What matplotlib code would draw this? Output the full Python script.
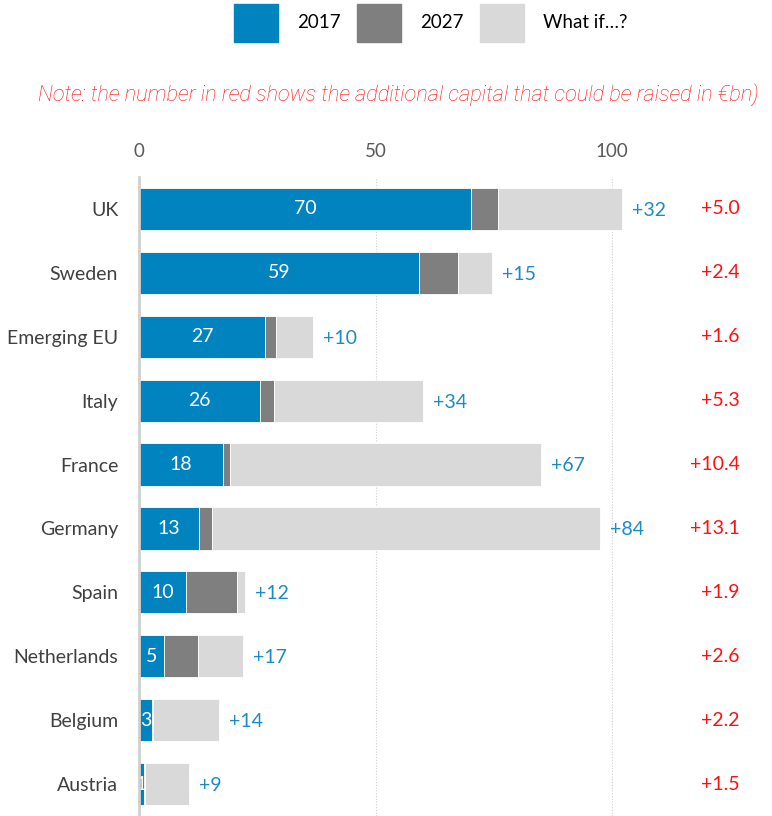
import matplotlib
matplotlib.use("Agg")
import matplotlib.pyplot as plt
from matplotlib.patches import Patch

# ---- data ----
countries = ["UK", "Sweden", "Emerging EU", "Italy", "France", "Germany",
             "Spain", "Netherlands", "Belgium", "Austria"]
value_2017 = [70.2, 59.2, 26.6, 25.6, 17.8, 12.7, 9.9, 5.3, 2.7, 1.0]
label_2017 = ["70", "59", "27", "26", "18", "13", "10", "5", "3", "1"]
add_2027 = [5.7, 8.2, 2.4, 2.9, 1.4, 2.7, 10.8, 7.2, 0.3, 0.3]
total_whatif = [102.1, 74.6, 36.8, 60.0, 85.0, 97.5, 22.4, 22.0, 16.9, 10.6]
whatif_labels = ["+32", "+15", "+10", "+34", "+67", "+84", "+12", "+17", "+14", "+9"]
capital_labels = ["+5.0", "+2.4", "+1.6", "+5.3", "+10.4", "+13.1", "+1.9", "+2.6", "+2.2", "+1.5"]
xticks = [0, 50, 100]
legend_labels = ["2017", "2027", "What if…?"]
note = "Note: the number in red shows the additional capital that could be raised in €bn)"

C_BLUE = "#0083BE"
C_GRAY = "#7F7F7F"
C_LIGHT = "#D9D9D9"
C_LBL = "#1B8BC6"
C_RED = "#FF1010"
FONT = ["Lato", "DejaVu Sans"]

plt.rcParams["font.family"] = FONT

fig = plt.figure(figsize=(7.72, 8.16), dpi=100)
ax = fig.add_axes([139 / 772, 0.0, 496.7 / 772, 1 - 177 / 816])

y = list(range(len(countries)))
end_2027 = [a + b for a, b in zip(value_2017, add_2027)]
whatif_seg = [t - e for t, e in zip(total_whatif, end_2027)]

h = 0.66
ax.barh(y, value_2017, height=h, color=C_BLUE, edgecolor="white", linewidth=0.6, zorder=3)
ax.barh(y, add_2027, left=value_2017, height=h, color=C_GRAY, edgecolor="white", linewidth=0.6, zorder=3)
ax.barh(y, whatif_seg, left=end_2027, height=h, color=C_LIGHT, edgecolor="white", linewidth=0.6, zorder=3)

for i in y:
    ax.text(value_2017[i] / 2, i, label_2017[i], ha="center", va="center",
            color="white", fontsize=14, zorder=4)
    ax.annotate(whatif_labels[i], xy=(total_whatif[i], i), xytext=(7, -1),
                textcoords="offset points", ha="left", va="center",
                color=C_LBL, fontsize=14, zorder=4)
    ax.annotate(capital_labels[i], xy=(1.0, i), xycoords=("axes fraction", "data"),
                xytext=(75, 0), textcoords="offset points", ha="right", va="center",
                color=C_RED, fontsize=14, annotation_clip=False)

ax.set_xlim(0, 105)
ax.set_ylim(len(countries) - 0.5, -0.5)
ax.set_yticks(y)
ax.set_yticklabels(countries, fontsize=14, color="#404040")
ax.set_xticks(xticks)
ax.set_xticklabels([str(t) for t in xticks], fontsize=13.5, color="#595959")
ax.xaxis.tick_top()
ax.tick_params(axis="both", length=0)
ax.tick_params(axis="x", pad=12)
ax.tick_params(axis="y", pad=15)
for s in ["top", "right", "bottom"]:
    ax.spines[s].set_visible(False)
ax.spines["left"].set_color("#D0D0D0")
ax.spines["left"].set_linewidth(2)
ax.spines["left"].set_zorder(5)
ax.grid(axis="x", color="#D0D0D0", linestyle=(0, (1, 1.5)), linewidth=0.8, zorder=0)
ax.set_axisbelow(True)

handles = [Patch(color=C_BLUE), Patch(color=C_GRAY), Patch(color=C_LIGHT)]
fig.legend(handles, legend_labels, loc="center", bbox_to_anchor=(0.558, 0.972),
           ncol=3, frameon=False, fontsize=13.5, handlelength=2.35, handleheight=2.75,
           handletextpad=1.0, columnspacing=0.9)

fig.text(0.516, 1 - 95 / 816, note, ha="center", va="center", color=C_RED,
         fontsize=15.7, style="italic", fontweight="light", family=["Roboto", "DejaVu Sans"])

fig.savefig("out.png", dpi=100)
